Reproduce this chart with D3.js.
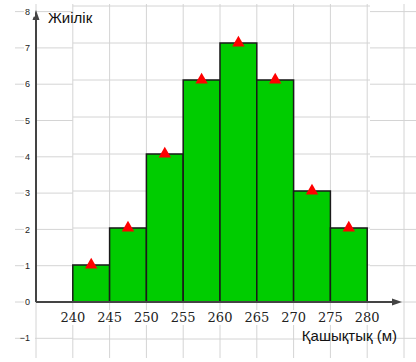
<!DOCTYPE html>
<html>
<head>
<meta charset="utf-8">
<script src="https://cdn.jsdelivr.net/npm/d3@7"></script>
<style>
  body { margin: 0; background: #fff; }
</style>
</head>
<body>
<div id="chart"></div>
<script>
// histogram data
var binEdges = [240, 245, 250, 255, 260, 265, 270, 275, 280];
var frequencies = [1, 2, 4, 6, 7, 6, 3, 2];
var xTickValues = [240, 245, 250, 255, 260, 265, 270, 275, 280];
var yTickValues = [-1, 0, 1, 2, 3, 4, 5, 6, 7, 8];
var xTitle = "Қашықтық (м)";
var yTitle = "Жиілік";

var width = 416, height = 362;

var svg = d3.select("#chart")
    .append("svg")
    .attr("width", width)
    .attr("height", height);

// square grid, 5 m per cell on x, 1 per cell on y
var x = d3.scaleLinear().domain([235, 285]).range([36, 404]);
var y = d3.scaleLinear().domain([0, 8]).range([302, 6]);
// the tick labels and the outer grid pieces sit on a slightly tighter scale
var yLab = d3.scaleLinear().domain([0, 8]).range([302, 11.6]);

var gridColor = "#d4d4d4";

// vertical grid lines
var gridX = d3.range(235, 290, 5);
svg.append("g").selectAll("line")
    .data(gridX)
    .enter().append("line")
    .attr("x1", d => x(d)).attr("x2", d => x(d))
    .attr("y1", 4).attr("y2", 358)
    .attr("stroke", gridColor)
    .attr("stroke-width", 1);

// horizontal grid lines in three pieces
var gh = svg.append("g");
gh.selectAll("line.left")
    .data(yTickValues)
    .enter().append("line")
    .attr("x1", 15).attr("x2", x(240))
    .attr("y1", d => yLab(d)).attr("y2", d => yLab(d))
    .attr("stroke", gridColor);
gh.selectAll("line.mid")
    .data(yTickValues)
    .enter().append("line")
    .attr("x1", x(240)).attr("x2", 370)
    .attr("y1", d => y(d)).attr("y2", d => y(d))
    .attr("stroke", gridColor);
gh.selectAll("line.right")
    .data(yTickValues)
    .enter().append("line")
    .attr("x1", 370).attr("x2", width)
    .attr("y1", d => yLab(d)).attr("y2", d => yLab(d))
    .attr("stroke", gridColor);

// bars
var bins = frequencies.map((f, i) => ({ x0: binEdges[i], x1: binEdges[i] + 5, f: f }));

svg.append("g").selectAll("rect")
    .data(bins)
    .enter().append("rect")
    .attr("x", d => x(d.x0))
    .attr("y", d => y(d.f))
    .attr("width", d => x(d.x1) - x(d.x0))
    .attr("height", d => y(0) - y(d.f))
    .attr("fill", "#00cc00")
    .attr("stroke", "#1a1a1a")
    .attr("stroke-width", 1.5);

// axes with arrows
var axisColor = "#444";
svg.append("line")
    .attr("x1", x(235)).attr("x2", x(235))
    .attr("y1", y(0)).attr("y2", 16)
    .attr("stroke", axisColor).attr("stroke-width", 2);
svg.append("path")
    .attr("d", d3.line()([[x(235) - 3.5, 20], [x(235), 10], [x(235) + 3.5, 20]]) + "Z")
    .attr("fill", axisColor);

svg.append("line")
    .attr("x1", x(235)).attr("x2", 396)
    .attr("y1", y(0)).attr("y2", y(0))
    .attr("stroke", axisColor).attr("stroke-width", 2);
svg.append("path")
    .attr("d", d3.line()([[392, y(0) - 3.5], [402, y(0)], [392, y(0) + 3.5]]) + "Z")
    .attr("fill", axisColor);

// triangles at bin midpoints
svg.append("g").selectAll("path")
    .data(bins)
    .enter().append("path")
    .attr("d", d3.symbol(d3.symbolTriangle, 66))
    .attr("transform", d => "translate(" + x((d.x0 + d.x1) / 2) + "," + y(d.f) + ")")
    .attr("fill", "#ff0000");

// x tick labels (white background hides grid)
var xl = svg.append("g").selectAll("g")
    .data(xTickValues)
    .enter().append("g")
    .attr("transform", d => "translate(" + x(d) + ",322)");
xl.append("rect")
    .attr("x", -12).attr("y", -12).attr("width", 24).attr("height", 15)
    .attr("fill", "#fff");
xl.append("text")
    .attr("text-anchor", "middle")
    .style("font-family", "'DejaVu Serif', 'Liberation Serif', serif")
    .style("font-size", "13px")
    .attr("fill", "#222")
    .text(d => d);

// y tick labels
var yl = svg.append("g").selectAll("g")
    .data(yTickValues)
    .enter().append("g")
    .attr("transform", d => "translate(30," + yLab(d) + ")");
yl.append("rect")
    .attr("x", -6).attr("y", -5).attr("width", 11).attr("height", 10)
    .attr("fill", "#fff");
yl.append("text")
    .attr("text-anchor", "end")
    .attr("dy", "0.35em")
    .style("font-family", "'Liberation Sans', Arial, sans-serif")
    .style("font-size", "9px")
    .attr("fill", "#222")
    .text(d => d < 0 ? "\u2212" + Math.abs(d) : d);

// axis titles
svg.append("text")
    .attr("x", 48).attr("y", 23)
    .style("font-family", "'Liberation Sans', Arial, sans-serif")
    .style("font-size", "15px")
    .attr("fill", "#111")
    .text(yTitle);

svg.append("text")
    .attr("x", 397).attr("y", 341)
    .attr("text-anchor", "end")
    .style("font-family", "'Liberation Sans', Arial, sans-serif")
    .style("font-size", "15px")
    .attr("fill", "#111")
    .text(xTitle);
</script>
</body>
</html>
